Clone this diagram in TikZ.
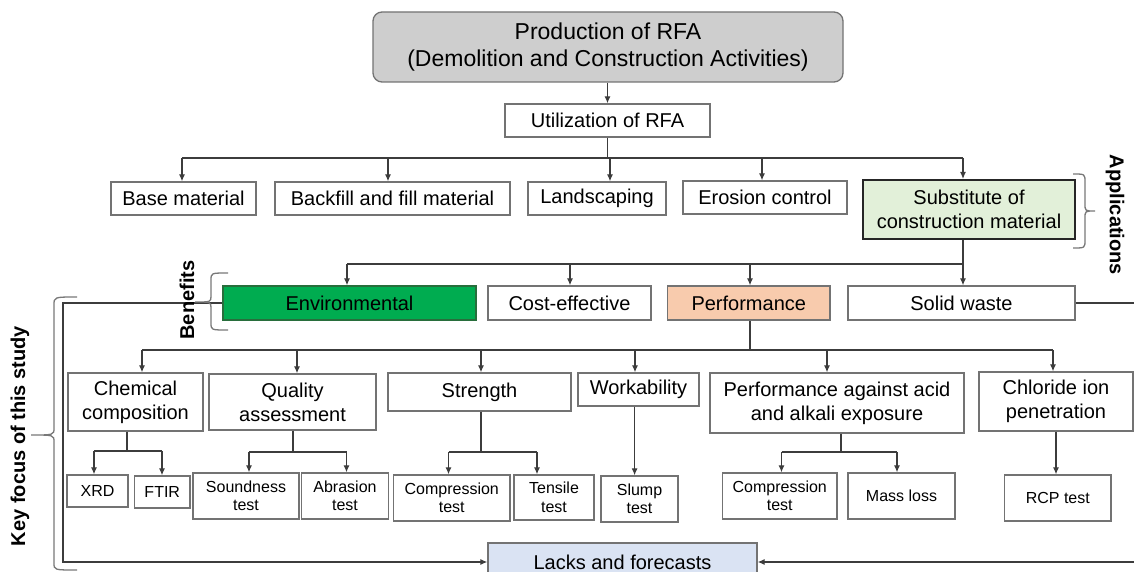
\documentclass[tikz,border=0pt]{standalone}
\usepackage{fontspec}
\setmainfont{Liberation Sans}
\usetikzlibrary{arrows.meta}
\definecolor{boxline}{RGB}{115,115,115}
\definecolor{conn}{RGB}{60,60,60}
\definecolor{topgray}{RGB}{206,206,206}
\definecolor{envgreen}{RGB}{0,172,80}
\definecolor{envborder}{RGB}{40,110,60}
\definecolor{perfpeach}{RGB}{248,203,173}
\definecolor{subgreen}{RGB}{226,240,217}
\definecolor{lackblue}{RGB}{218,227,243}
\definecolor{bracecol}{RGB}{120,120,120}
\newcommand\fA{\fontsize{20}{24}\selectfont}
\newcommand\fB{\fontsize{16}{18.5}\selectfont}
\newcommand\fT{\fontsize{23}{27}\selectfont}
\begin{document}
\begin{tikzpicture}[x=1pt,y=-1pt,
  box/.style={draw=boxline, line width=1.3pt, inner sep=0pt, align=center, font=\fA, text=black},
  smallbox/.style={box, font=\fB},
  line/.style={draw=conn, line width=1.2pt},
  arr/.style={line, -{Latex[length=7pt,width=6pt]}},
  bracepath/.style={draw=bracecol, line width=1.3pt},
  sidelabel/.style={font=\bfseries\fontsize{20}{24}\selectfont, inner sep=0pt}]
\useasboundingbox (0,0) rectangle (1134,572);
\clip (0,0) rectangle (1134,572);

% ---- top levels
\node[box, fill=topgray, rounded corners=9pt, font=\fT, minimum width=470pt, minimum height=70pt] (top) at (608,47) {Production of RFA\\(Demolition and Construction Activities)};
\node[box, minimum width=205pt, minimum height=33pt] (util) at (607.5,120.5) {Utilization of RFA};

\node[box, minimum width=145pt, minimum height=33pt] (base) at (183.5,198.5) {Base material};
\node[box, minimum width=235pt, minimum height=33pt] (backfill) at (392.5,198.5) {Backfill and fill material};
\node[box, minimum width=138pt, minimum height=33pt] (land) at (597,198.5) {Landscaping};
\node[box, minimum width=164pt, minimum height=33pt] (eros) at (765,197.5) {Erosion control};
\node[box, draw=black!85, line width=2pt, fill=subgreen, minimum width=212pt, minimum height=59pt] (subst) at (969,209.5) {Substitute of\\construction material};

% ---- benefits
\node[box, fill=envgreen, draw=envborder, minimum width=253pt, minimum height=34pt] (env) at (349.5,303) {Environmental};
\node[box, minimum width=163pt, minimum height=34pt] (cost) at (569.5,303) {Cost-effective};
\node[box, fill=perfpeach, minimum width=162.5pt, minimum height=34pt] (perf) at (748.75,303) {Performance};
\node[box, minimum width=227pt, minimum height=34pt] (solid) at (961.5,303) {Solid waste};

% ---- performance aspects
\node[box, minimum width=135pt, minimum height=58pt] (chem) at (135.5,402) {Chemical\\composition};
\node[box, minimum width=167pt, minimum height=56pt] (qual) at (292.5,402) {Quality\\assessment};
\node[box, minimum width=183pt, minimum height=38pt] (stren) at (479.5,392) {Strength};
\node[box, minimum width=121pt, minimum height=33pt] (work) at (638.5,389.5) {Workability};
\node[box, minimum width=254pt, minimum height=60pt] (pacid) at (837,403) {Performance against acid\\and alkali exposure};
\node[box, minimum width=154pt, minimum height=59pt] (chlor) at (1056,401.5) {Chloride ion\\penetration};

% ---- tests
\node[smallbox, minimum width=61pt, minimum height=32pt] (xrd) at (97.5,491) {XRD};
\node[smallbox, minimum width=55.5pt, minimum height=32pt] (ftir) at (162.25,492) {FTIR};
\node[smallbox, minimum width=106pt, minimum height=46pt] (sound) at (246,496) {Soundness\\test};
\node[smallbox, minimum width=87pt, minimum height=46pt] (abras) at (345,496) {Abrasion\\test};
\node[smallbox, minimum width=116.5pt, minimum height=46pt] (comp) at (451.75,498) {Compression\\test};
\node[smallbox, minimum width=80pt, minimum height=45pt] (tens) at (554,497.5) {Tensile\\test};
\node[smallbox, minimum width=77pt, minimum height=46pt] (slump) at (639.5,499) {Slump\\test};
\node[smallbox, minimum width=114.5pt, minimum height=46pt] (compb) at (779.75,496) {Compression\\test};
\node[smallbox, minimum width=107pt, minimum height=46pt] (mass) at (901.5,496) {Mass loss};
\node[smallbox, minimum width=106.4pt, minimum height=46pt] (rcp) at (1057.8,498) {RCP test};

\node[box, fill=lackblue, minimum width=269pt, minimum height=38pt] (lacks) at (622.5,562) {Lacks and forecasts};

% ---- connectors
\draw[arr] (top.south -| util.north) -- (util.north);
\coordinate (bus1) at (607.5,158);
\draw[line] (util.south) -- (bus1);
\draw[line] (182,158) -- (963,158);
\foreach \xx/\nn in {182/base, 388/backfill, 610/land, 762/eros, 963/subst}
  \draw[arr] (\xx,158) -- (\xx,0 |- \nn.north);

\coordinate (bus2) at (963,264);
\draw[line] (subst.south -| bus2) -- (bus2);
\draw[line] (347,264) -- (bus2);
\foreach \xx/\nn in {347/env, 570/cost, 750/perf, 963/solid}
  \draw[arr] (\xx,264) -- (\xx,0 |- \nn.north);

\coordinate (bus3) at (750,350);
\draw[line] (perf.south -| bus3) -- (bus3);
\draw[line] (142,350) -- (1053,350);
\foreach \xx/\nn in {142/chem, 297/qual, 481/stren, 635/work, 827/pacid, 1053/chlor}
  \draw[arr] (\xx,350) -- (\xx,0 |- \nn.north);

% chemical
\coordinate (c1) at (127,451);
\draw[line] (chem.south -| c1) -- (c1);
\draw[line] (94,451) -- (162,451);
\draw[arr] (94,451) -- (94,0 |- xrd.north);
\draw[arr] (162,451) -- (162,0 |- ftir.north);
% quality
\coordinate (q1) at (293,452);
\draw[line] (qual.south -| q1) -- (q1);
\draw[line] (249,452) -- (346.5,452);
\draw[arr] (249,452) -- (249,0 |- sound.north);
\draw[arr] (346.5,452) -- (346.5,0 |- abras.north);
% strength
\coordinate (s1) at (481,452);
\draw[line] (stren.south -| s1) -- (s1);
\draw[line] (448.5,452) -- (537,452);
\draw[arr] (448.5,452) -- (448.5,0 |- comp.north);
\draw[arr] (537,452) -- (537,0 |- tens.north);
% workability
\draw[arr] (work.south -| 634.6,0) -- (634.6,0 |- slump.north);
% acid
\coordinate (p1) at (841,452);
\draw[line] (pacid.south -| p1) -- (p1);
\draw[line] (781.5,452) -- (897,452);
\draw[arr] (781.5,452) -- (781.5,0 |- compb.north);
\draw[arr] (897,452) -- (897,0 |- mass.north);
% chloride
\draw[arr] (chlor.south -| 1056,0) -- (1056,0 |- rcp.north);

% feedback loops
\coordinate (fbl) at (63,303);
\coordinate (fbr) at (1142,303);
\draw[arr] (env.west) -- (fbl) |- (lacks.west);
\draw[arr] (solid.east) -- (fbr) |- (lacks.east);

% ---- braces
% Applications (right brace)
\draw[bracepath] (1073,174) .. controls (1085,174) .. (1085,182) -- (1085,204)
  .. controls (1085,211) .. (1095,211) .. controls (1085,211) .. (1085,218)
  -- (1085,240) .. controls (1085,248) .. (1073,248);
% Benefits (left brace)
\draw[bracepath] (228,273) .. controls (211,273) .. (211,280) -- (211,296)
  .. controls (211,302) .. (195,302) .. controls (211,302) .. (211,308)
  -- (211,323) .. controls (211,330) .. (228,330);
% Key focus (left brace)
\draw[bracepath] (77,297) .. controls (54,297) .. (54,305) -- (54,428)
  .. controls (54,435) .. (31,435) .. controls (54,435) .. (54,442)
  -- (54,563) .. controls (54,570) .. (77,570);

\node[sidelabel, rotate=-90] (applab) at (1115,215) {Applications};
\node[sidelabel, rotate=90] (benlab) at (187,300) {Benefits};
\node[sidelabel, rotate=90] (keylab) at (20,436) {Key focus of this study};
\end{tikzpicture}
\end{document}
